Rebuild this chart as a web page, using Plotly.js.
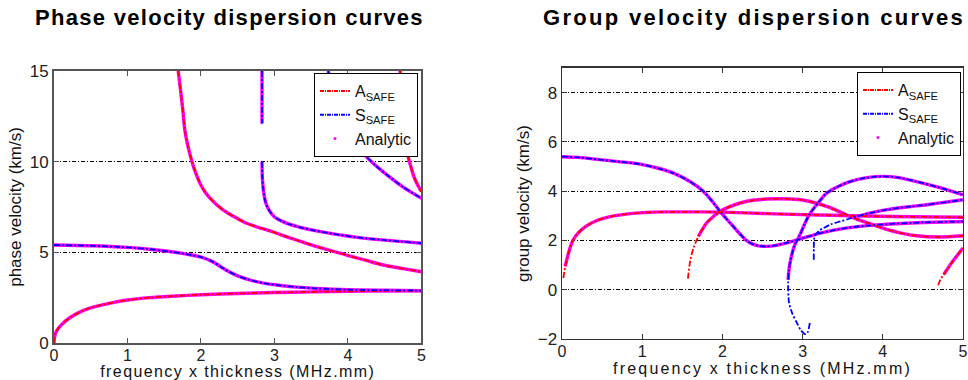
<!DOCTYPE html>
<html>
<head>
<meta charset="utf-8">
<script src="https://cdn.plot.ly/plotly-3.0.1.min.js"></script>
<style>html,body{margin:0;padding:0;background:#fff;}#chart{width:968px;height:380px;}</style>
</head>
<body>
<div id="chart"></div>
<script>
// ---------- Phase velocity (left) ----------
const phA0_x = [0, 0.01, 0.04, 0.1, 0.2, 0.4, 0.6, 0.8, 1.0, 1.3, 1.6, 2.0, 2.5, 3.0, 3.5, 4.0, 4.5, 5.0];
const phA0_y = [0, 0.4, 0.7, 1.0, 1.35, 1.8, 2.05, 2.23, 2.37, 2.5, 2.58, 2.66, 2.73, 2.78, 2.82, 2.85, 2.87, 2.88];
const phS0_x = [0, 0.5, 1.0, 1.3, 1.6, 1.8, 2.0, 2.15, 2.35, 2.5, 2.67, 2.85, 3.03, 3.3, 3.57, 4.0, 4.5, 5.0];
const phS0_y = [5.4, 5.36, 5.27, 5.17, 5.03, 4.9, 4.74, 4.5, 4.0, 3.7, 3.47, 3.3, 3.2, 3.08, 3.01, 2.94, 2.91, 2.89];
const phA1_x = [1.69, 1.72, 1.75, 1.78, 1.82, 1.86, 1.9, 1.95, 2.0, 2.06, 2.12, 2.22, 2.35, 2.48, 2.62, 2.78, 2.94, 3.1, 3.3, 3.6, 3.98, 4.25, 4.48, 4.75, 5.0];
const phA1_y = [15, 14.0, 12.95, 11.75, 10.9, 10.25, 9.7, 9.15, 8.7, 8.3, 8.0, 7.6, 7.2, 6.9, 6.6, 6.38, 6.18, 5.95, 5.68, 5.28, 4.85, 4.55, 4.3, 4.1, 3.93];
const phS1_x = [2.83, 2.83, 2.83, null, 2.83, 2.835, 2.85, 2.88, 2.93, 3.0, 3.1, 3.2, 3.35, 3.55, 3.8, 4.1, 4.5, 5.0];
const phS1_y = [15, 13.5, 12.1, null, 10.0, 9.1, 8.4, 7.75, 7.3, 6.95, 6.72, 6.55, 6.38, 6.2, 6.02, 5.84, 5.67, 5.5];
const phS2_x = [3.73, 3.82, 3.93, 4.05, 4.15, 4.25, 4.4, 4.53, 4.75, 5.0];
const phS2_y = [15, 13.7, 12.5, 11.4, 10.8, 10.28, 9.7, 9.27, 8.6, 7.98];
const phA2_x = [4.71, 4.73, 4.76, 4.8, 4.85, 4.9, 4.95, 5.0];
const phA2_y = [15, 13.6, 12.0, 10.6, 9.8, 9.15, 8.7, 8.35];

// ---------- Group velocity (right) ----------
const grA0_x = [0.017, 0.04, 0.06, 0.1, 0.14, 0.2, 0.31, 0.45, 0.6, 0.8, 0.97, 1.15, 1.31, 1.5, 1.72, 2.0, 2.55, 3.0, 3.38, 3.8, 4.4, 5.0];
const grA0_y = [0.47, 0.95, 1.22, 1.7, 2.03, 2.3, 2.6, 2.83, 2.97, 3.07, 3.12, 3.15, 3.16, 3.16, 3.16, 3.15, 3.09, 3.05, 3.02, 2.99, 2.96, 2.94];
const grA0an_x = [0.04, 0.06, 0.1, 0.14, 0.2, 0.31, 0.45, 0.6, 0.8, 0.97, 1.15, 1.31, 1.5, 1.72, 2.0, 2.55, 3.0, 3.38, 3.8, 4.4, 5.0];
const grA0an_y = [0.95, 1.22, 1.7, 2.03, 2.3, 2.6, 2.83, 2.97, 3.07, 3.12, 3.15, 3.16, 3.16, 3.16, 3.15, 3.09, 3.05, 3.02, 2.99, 2.96, 2.94];
const grS0_x = [0, 0.2, 0.47, 0.7, 0.97, 1.2, 1.39, 1.6, 1.76, 1.87, 1.97, 2.06, 2.14, 2.22, 2.3, 2.37, 2.45, 2.55, 2.67, 2.8, 2.97, 3.22, 3.5, 3.8, 4.1, 4.5, 5.0];
const grS0_y = [5.4, 5.37, 5.28, 5.2, 5.1, 4.93, 4.73, 4.38, 4.0, 3.6, 3.18, 2.84, 2.55, 2.26, 2.0, 1.86, 1.78, 1.76, 1.8, 1.9, 2.06, 2.3, 2.48, 2.6, 2.67, 2.73, 2.77];
const grA1_x = [1.57, 1.6, 1.64, 1.7, 1.8, 1.89, 1.97, 2.1, 2.22, 2.4, 2.55, 2.7, 2.85, 3.0, 3.15, 3.3, 3.45, 3.59, 3.8, 4.0, 4.2, 4.42, 4.71, 5.0];
const grA1_y = [0.45, 1.2, 1.7, 2.16, 2.7, 2.98, 3.18, 3.38, 3.52, 3.64, 3.68, 3.69, 3.68, 3.64, 3.53, 3.38, 3.18, 2.97, 2.72, 2.5, 2.32, 2.19, 2.14, 2.19];
const grA1an_x = [1.7, 1.8, 1.89, 1.97, 2.1, 2.22, 2.4, 2.55, 2.7, 2.85, 3.0, 3.15, 3.3, 3.45, 3.59, 3.8, 4.0, 4.2, 4.42, 4.71, 5.0];
const grA1an_y = [2.16, 2.7, 2.98, 3.18, 3.38, 3.52, 3.64, 3.68, 3.69, 3.68, 3.64, 3.53, 3.38, 3.18, 2.97, 2.72, 2.5, 2.32, 2.19, 2.14, 2.19];
const grS1_x = [3.09, 3.06, 3.03, 2.98, 2.93, 2.87, 2.83, 2.82, 2.83, 2.86, 2.9, 2.97, 3.03, 3.09, 3.2, 3.3, 3.45, 3.59, 3.8, 4.0, 4.2, 4.42, 4.7, 5.0];
const grS1_y = [-1.35, -1.75, -1.8, -1.65, -1.35, -0.95, -0.5, 0.27, 0.8, 1.35, 1.8, 2.25, 2.7, 3.08, 3.55, 3.92, 4.2, 4.39, 4.55, 4.6, 4.55, 4.39, 4.15, 3.85];
const grS1an_x = [2.82, 2.83, 2.86, 2.9, 2.97, 3.03, 3.09, 3.2, 3.3, 3.45, 3.59, 3.8, 4.0, 4.2, 4.42, 4.7, 5.0];
const grS1an_y = [0.4, 0.8, 1.35, 1.8, 2.25, 2.7, 3.08, 3.55, 3.92, 4.2, 4.39, 4.55, 4.6, 4.55, 4.39, 4.15, 3.85];
const grS2_x = [3.14, 3.14, 3.15, 3.2, 3.26, 3.35, 3.47, 3.57, 3.67, 3.85, 4.05, 4.3, 4.55, 4.8, 5.0];
const grS2_y = [1.22, 1.7, 2.16, 2.38, 2.5, 2.65, 2.77, 2.87, 2.97, 3.12, 3.25, 3.36, 3.45, 3.56, 3.65];
const grS2an_x = [3.67, 3.85, 4.05, 4.3, 4.55, 4.8, 5.0];
const grS2an_y = [2.97, 3.12, 3.25, 3.36, 3.45, 3.56, 3.65];
const grA2_x = [4.69, 4.72, 4.76, 4.8, 4.86, 4.93, 5.0];
const grA2_y = [0.18, 0.42, 0.62, 0.81, 1.1, 1.4, 1.69];
const grA2an_x = [4.76, 4.8, 4.86, 4.93, 5.0];
const grA2an_y = [0.62, 0.81, 1.1, 1.4, 1.69];

const titles = ['Phase velocity dispersion curves', 'Group velocity dispersion curves'];
const xTitle = 'frequency x thickness (MHz.mm)';
const yTitles = ['phase velocity (km/s)', 'group velocity (km/s)'];
const legendNames = ['A<sub>SAFE</sub>', 'S<sub>SAFE</sub>', 'Analytic'];

const RED = '#ff0000', BLUE = '#0000ff', MAG = '#ff00ff';
const FONT = 'Liberation Sans, Arial, sans-serif';
const traces = [];
function analytic(x, y, xa, ya) {
  traces.push({x: x, y: y, xaxis: xa, yaxis: ya, mode: 'lines', showlegend: false, hoverinfo: 'skip',
    line: {color: MAG, width: 3.4, shape: 'spline', smoothing: 0.8}, connectgaps: false});
}
function safe(x, y, xa, ya, color) {
  traces.push({x: x, y: y, xaxis: xa, yaxis: ya, mode: 'lines', showlegend: false, hoverinfo: 'skip',
    line: {color: color, width: 1.8, dash: '6px,2px,2px,2px', shape: 'spline', smoothing: 0.8}, connectgaps: false});
}
// phase plot
[[phA0_x, phA0_y], [phS0_x, phS0_y], [phA1_x, phA1_y], [phS1_x, phS1_y], [phS2_x, phS2_y], [phA2_x, phA2_y]]
  .forEach(c => analytic(c[0], c[1], 'x', 'y'));
safe(phA0_x, phA0_y, 'x', 'y', RED);
safe(phS0_x, phS0_y, 'x', 'y', BLUE);
safe(phA1_x, phA1_y, 'x', 'y', RED);
safe(phS1_x, phS1_y, 'x', 'y', BLUE);
safe(phS2_x, phS2_y, 'x', 'y', BLUE);
safe(phA2_x, phA2_y, 'x', 'y', RED);
// group plot
[[grA0an_x, grA0an_y], [grS0_x, grS0_y], [grA1an_x, grA1an_y], [grS1an_x, grS1an_y], [grS2an_x, grS2an_y], [grA2an_x, grA2an_y]]
  .forEach(c => analytic(c[0], c[1], 'x2', 'y2'));
safe(grA0_x, grA0_y, 'x2', 'y2', RED);
safe(grS0_x, grS0_y, 'x2', 'y2', BLUE);
safe(grA1_x, grA1_y, 'x2', 'y2', RED);
safe(grS1_x, grS1_y, 'x2', 'y2', BLUE);
safe(grS2_x, grS2_y, 'x2', 'y2', BLUE);
safe(grA2_x, grA2_y, 'x2', 'y2', RED);

// legend entries
[['legend', 'x', 'y'], ['legend2', 'x2', 'y2']].forEach(l => {
  traces.push({x: [null], y: [null], xaxis: l[1], yaxis: l[2], legend: l[0], name: legendNames[0], legendrank: 1,
    mode: 'lines', line: {color: RED, width: 2, dash: '4px,1px,1px,1px'}});
  traces.push({x: [null], y: [null], xaxis: l[1], yaxis: l[2], legend: l[0], name: legendNames[1], legendrank: 2,
    mode: 'lines', line: {color: BLUE, width: 2, dash: '4px,1px,1px,1px'}});
  traces.push({x: [null], y: [null], xaxis: l[1], yaxis: l[2], legend: l[0], name: legendNames[2], legendrank: 3,
    mode: 'markers', marker: {color: MAG, size: 3}});
});

function spaced(t, px) { return '<span style="letter-spacing:' + px + 'px">' + t + '</span>'; }

function xax(domain, anchor, lc, lw, sp) {
  return {domain: domain, anchor: anchor, range: [0, 5], dtick: 1, tick0: 0, ticks: 'inside', ticklen: 5,
    tickcolor: lc, showline: true, mirror: 'ticks', linecolor: lc, linewidth: lw, showgrid: false, zeroline: false,
    tickfont: {family: FONT, size: 16, color: '#222'}, automargin: false, ticklabelstandoff: -3,
    title: {text: spaced(xTitle, sp), font: {family: FONT, size: 16, color: '#111'}, standoff: 3}};
}
function yax(domain, anchor, range, dtick, title, lc, lw) {
  return {domain: domain, anchor: anchor, range: range, dtick: dtick, ticks: 'inside', ticklen: 5,
    tickcolor: lc, showline: true, mirror: 'ticks', linecolor: lc, linewidth: lw, zeroline: false,
    showgrid: true, gridcolor: '#000', gridwidth: 1, griddash: '4px,2px,1px,2px',
    tickfont: {family: FONT, size: 17, color: '#222'}, automargin: false,
    title: {text: title, font: {family: FONT, size: 17, color: '#111'}, standoff: 4}};
}
function leg(xr, ytop) {
  return {x: xr, y: ytop, xref: 'paper', yref: 'paper', xanchor: 'right', yanchor: 'top',
    bgcolor: '#fff', bordercolor: '#000', borderwidth: 1, itemwidth: 30, tracegroupgap: 0,
    font: {family: FONT, size: 16, color: '#111'}};
}

const layout = {
  width: 968, height: 380, margin: {l: 0, r: 0, t: 0, b: 0},
  paper_bgcolor: '#fff', plot_bgcolor: '#fff', showlegend: true,
  font: {family: FONT},
  xaxis: xax([0.0558, 0.4354], 'y', '#555', 2, 1.4),
  yaxis: yax([0.0974, 0.8132], 'x', [0, 15], 5, yTitles[0], '#555', 2),
  xaxis2: xax([0.5806, 0.9948], 'y2', '#333', 1.5, 2.2),
  yaxis2: yax([0.1079, 0.8211], 'x2', [-2, 9], 2, yTitles[1], '#333', 1.5),
  legend: leg(0.4318, 0.8079),
  legend2: leg(0.9928, 0.8105),
  annotations: [
    {text: spaced(titles[0], 1.3), x: 0.2366, y: 0.953, xref: 'paper', yref: 'paper', xanchor: 'center', yanchor: 'middle',
     showarrow: false, font: {family: FONT, size: 22, weight: 'bold', color: '#000'}},
    {text: spaced(titles[1], 2.3), x: 0.7789, y: 0.953, xref: 'paper', yref: 'paper', xanchor: 'center', yanchor: 'middle',
     showarrow: false, font: {family: FONT, size: 22, weight: 'bold', color: '#000'}}
  ]
};
Plotly.newPlot('chart', traces, layout, {staticPlot: true, displayModeBar: false});
</script>
</body>
</html>
